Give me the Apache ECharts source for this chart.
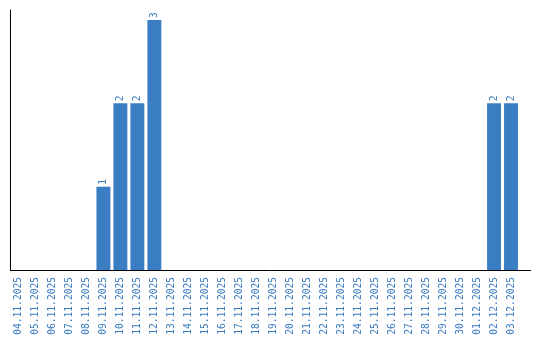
<!DOCTYPE html>
<html><head><meta charset="utf-8">
<script src="https://cdn.jsdelivr.net/npm/echarts@6/dist/echarts.min.js"></script>
<style>html,body{margin:0;padding:0;background:#fff}#c{width:540px;height:340px}</style>
</head><body><div id="c"></div>
<script>
const categories = ["04.11.2025","05.11.2025","06.11.2025","07.11.2025","08.11.2025","09.11.2025","10.11.2025","11.11.2025","12.11.2025","13.11.2025","14.11.2025","15.11.2025","16.11.2025","17.11.2025","18.11.2025","19.11.2025","20.11.2025","21.11.2025","22.11.2025","23.11.2025","24.11.2025","25.11.2025","26.11.2025","27.11.2025","28.11.2025","29.11.2025","30.11.2025","01.12.2025","02.12.2025","03.12.2025"];
const values = [0,0,0,0,0,1,2,2,3,0,0,0,0,0,0,0,0,0,0,0,0,0,0,0,0,0,0,0,2,2];

const FONT = 'DejaVu Sans Mono';
const chart = echarts.init(document.getElementById('c'), null, {renderer:'canvas'});
chart.setOption({
  animation:false,
  grid:{left:10,right:20.5,top:10,bottom:70,containLabel:false},
  xAxis:{type:'category',data:categories,
    axisLine:{show:false},
    axisTick:{show:false},
    axisLabel:{rotate:90,interval:0,color:'#3a7bc0',fontFamily:FONT,fontSize:9.6,margin:7}
  },
  yAxis:{type:'value',min:0,max:3.12,
    axisLine:{show:true,lineStyle:{color:'#000',width:1}},
    axisTick:{show:false},axisLabel:{show:false},splitLine:{show:false}
  },
  graphic:[{type:'line',shape:{x1:10,y1:270.5,x2:531,y2:270.5},style:{stroke:'#000',lineWidth:1},silent:true,z:10}],
  series:[{type:'bar',data:values.map(v=>v===0?null:v),barCategoryGap:'18%',
    itemStyle:{color:'#3a7dc3'},
    label:{show:true,position:'top',rotate:90,align:'left',verticalAlign:'middle',distance:2,color:'#3a7bc0',fontFamily:FONT,fontSize:9.6}
  }]
});
</script></body></html>
